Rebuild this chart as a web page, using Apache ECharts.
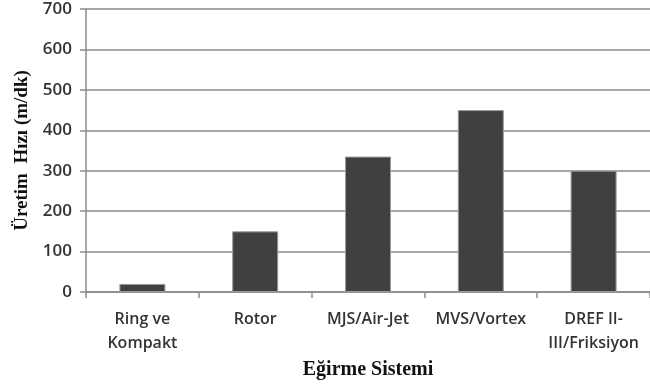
<!DOCTYPE html>
<html>
<head>
<meta charset="utf-8">
<script src="https://cdn.jsdelivr.net/npm/echarts@6/dist/echarts.min.js"></script>
<style>
  html, body { margin: 0; padding: 0; background: #fff; }
  #chart { width: 650px; height: 385px; }
</style>
</head>
<body>
<div id="chart"></div>
<script>
// Spinning systems and their production speeds (m/dk)
const categories = ['Ring ve\nKompakt', 'Rotor', 'MJS/Air-Jet', 'MVS/Vortex', 'DREF II-\nIII/Friksiyon'];
const speeds = [20, 150, 335, 450, 300];
const yTicks = [0, 100, 200, 300, 400, 500, 600, 700];

const axisGrey = '#8a8a8a';

const chart = echarts.init(document.getElementById('chart'));
chart.setOption({
  animation: false,
  backgroundColor: '#ffffff',
  // plot runs slightly past the right edge of the canvas
  grid: { left: 86, top: 9, width: 574, height: 283, containLabel: false },
  xAxis: {
    type: 'category',
    data: categories,
    name: 'Eğirme Sistemi',
    nameLocation: 'middle',
    nameGap: 67,
    nameTextStyle: { fontFamily: 'Liberation Serif', fontWeight: 'bold', fontSize: 20, color: '#111', verticalAlign: 'top' },
    axisLine: { lineStyle: { color: axisGrey, width: 1.5 } },
    axisTick: { show: true, alignWithLabel: false, length: 6, lineStyle: { color: axisGrey, width: 1.5 } },
    axisLabel: { interval: 0, margin: 15, fontFamily: 'Open Sans', fontWeight: 600, fontSize: 16, color: '#333', lineHeight: 24 }
  },
  yAxis: {
    type: 'value',
    min: yTicks[0],
    max: yTicks[yTicks.length - 1],
    interval: 100,
    name: 'Üretim  Hızı (m/dk)',
    nameLocation: 'middle',
    nameGap: 53,
    nameTextStyle: { fontFamily: 'Liberation Serif', fontWeight: 'bold', fontSize: 19, color: '#111' },
    axisLine: { show: true, lineStyle: { color: axisGrey, width: 1.5 } },
    axisTick: { show: true, length: 6, lineStyle: { color: axisGrey, width: 1.5 } },
    axisLabel: { margin: 14, fontFamily: 'Open Sans', fontWeight: 600, fontSize: 17, color: '#333' },
    splitLine: { lineStyle: { color: axisGrey, width: 1.5 } }
  },
  series: [{
    type: 'bar',
    data: speeds,
    barWidth: 46,
    itemStyle: { color: '#404040', borderColor: '#9a9a9a', borderWidth: 1 }
  }]
});
</script>
</body>
</html>
